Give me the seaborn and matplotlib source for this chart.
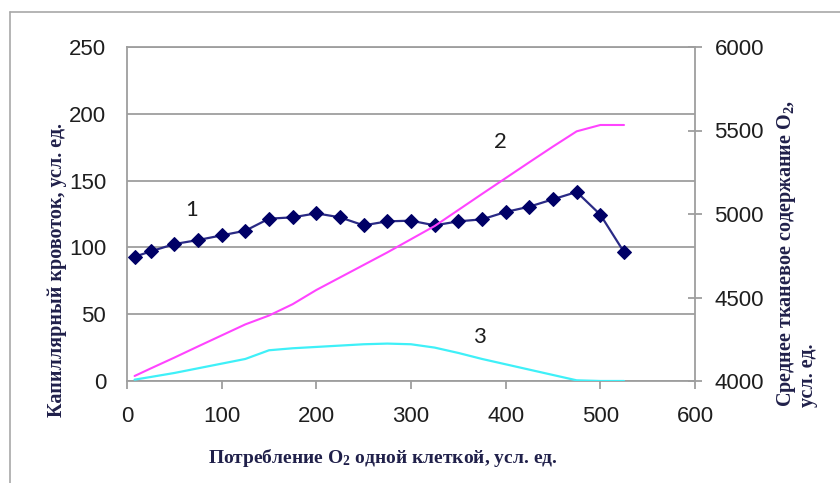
import numpy as np
import pandas as pd
import matplotlib
matplotlib.use("Agg")
import matplotlib.pyplot as plt
from matplotlib.lines import Line2D
import seaborn as sns

# O2 consumption per cell (x axis)
consumption = [8, 25, 50, 75, 100, 125, 150, 175, 200, 225, 250,
               275, 300, 325, 350, 375, 400, 425, 450, 475, 500, 525]
# 1 - capillary blood flow (left axis)
blood_flow = [93, 97, 102.5, 105.5, 109, 112.5, 121.5, 122.5, 125.5, 122.5, 116.5,
              119.5, 120, 116.5, 119.5, 121, 126.5, 130.5, 136, 141.5, 124.5, 96.5]
# 3 - second left-axis curve
curve3 = [1, 3, 6, 9.5, 13, 16.5, 23, 24.5, 25.5, 26.5, 27.5,
          28, 27.5, 25, 21, 16.5, 12.5, 8.5, 4.5, 0.5, 0, 0]
# 2 - mean tissue O2 content (right axis)
tissue_o2 = [4030, 4075, 4140, 4207, 4273, 4339, 4392, 4460, 4545, 4620, 4695,
             4770, 4849, 4928, 5024, 5120, 5215, 5310, 5404, 5495, 5533, 5533]

left_ticks = [0, 50, 100, 150, 200, 250]
right_ticks = [4000, 4500, 5000, 5500, 6000]
x_ticks = [0, 100, 200, 300, 400, 500, 600]

curve_labels = ["1", "2", "3"]
label_pos = [(68, 128), (395, 179), (372, 33)]

df = pd.DataFrame({"x": consumption, "flow": blood_flow,
                   "c3": curve3, "o2": tissue_o2})

sns.set_theme(style="white")
plt.rcParams["font.family"] = ["Liberation Sans", "DejaVu Sans"]
plt.rcParams["mathtext.fontset"] = "custom"
plt.rcParams["mathtext.rm"] = "Liberation Serif:bold"
plt.rcParams["mathtext.it"] = "Liberation Serif:bold"
plt.rcParams["mathtext.bf"] = "Liberation Serif:bold"

fig = plt.figure(figsize=(8.4, 4.83), dpi=100)
fig.patch.set_facecolor("white")
ax = fig.add_axes([127 / 840, 1 - 381 / 483, (695 - 127) / 840, (381 - 47) / 483])
ax2 = ax.twinx()

grid_col = "#9e9e9e"
text_col = "#1e1e1e"
label_col = "#20204a"

# curves
sns.lineplot(data=df, x="x", y="c3", ax=ax, color="#3ff0f8", linewidth=1.6,
             sort=False, estimator=None, zorder=3)
sns.lineplot(data=df, x="x", y="flow", ax=ax, color="#2a2a85", linewidth=1.6,
             marker="D", markersize=7, markerfacecolor="#000066",
             markeredgecolor="#000066", sort=False, estimator=None, zorder=4)
sns.lineplot(data=df, x="x", y="o2", ax=ax2, color="#ff44ff", linewidth=1.5,
             sort=False, estimator=None, zorder=3)

ax.set_xlim(0, 600)
ax.set_ylim(0, 250)
ax2.set_ylim(4000, 6000)
ax.set_xticks(x_ticks)
ax.set_yticks(left_ticks)
ax2.set_yticks(right_ticks)

ax.yaxis.grid(True, color=grid_col, linewidth=1.3)
ax.xaxis.grid(False)
ax2.grid(False)
ax.set_axisbelow(True)

for a in (ax, ax2):
    for s in a.spines.values():
        s.set_color(grid_col)
        s.set_linewidth(1.3)
ax.spines["right"].set_visible(False)
ax2.spines["left"].set_visible(False)
ax2.spines["bottom"].set_visible(False)
ax2.spines["top"].set_visible(False)

ax.tick_params(axis="y", length=0, pad=15, labelsize=16, labelcolor=text_col)
ax.tick_params(axis="x", direction="out", length=6, width=1.3, color=grid_col,
               pad=12, labelsize=16, labelcolor=text_col, bottom=True)
ax2.tick_params(axis="y", direction="inout", length=10, width=1.3, color=grid_col,
                pad=9, labelsize=16, labelcolor=text_col, right=True)

ax.set_xlabel("")
ax.set_ylabel("")
ax2.set_ylabel("")

for txt, (lx, ly) in zip(curve_labels, label_pos):
    ax.text(lx, ly, txt, fontsize=16, color=text_col, family=["Lato", "DejaVu Sans"],
            ha="center", va="center", zorder=5)

serif = ["Liberation Serif", "DejaVu Serif"]
fig.text(383 / 840, 1 - 458 / 483, r"Потребление O$_{2}$ одной клеткой, усл. ед.",
         ha="center", va="center", fontsize=14, fontweight="bold",
         family=serif, color=label_col)
fig.text(57 / 840, 1 - 270 / 483, "Капиллярный кровоток, усл. ед.",
         ha="center", va="center", rotation=90, fontsize=14.5, fontweight="bold",
         family=serif, color=label_col)
fig.text(797 / 840, 1 - 253 / 483,
         "Среднее тканевое содержание O$_{2}$,\nусл. ед.",
         ha="center", va="center", rotation=90, multialignment="left",
         fontsize=14.5, fontweight="bold", family=serif, color=label_col,
         linespacing=1.0)

# chart-area frame (top and left edges)
fig.add_artist(Line2D([10 / 840, 10 / 840], [0, 1 - 12 / 483],
                      transform=fig.transFigure, color="#a8a8a8", linewidth=1.2))
fig.add_artist(Line2D([10 / 840, 1], [1 - 12 / 483, 1 - 12 / 483],
                      transform=fig.transFigure, color="#a8a8a8", linewidth=1.2))

fig.savefig("out.png", dpi=100, facecolor="white")
